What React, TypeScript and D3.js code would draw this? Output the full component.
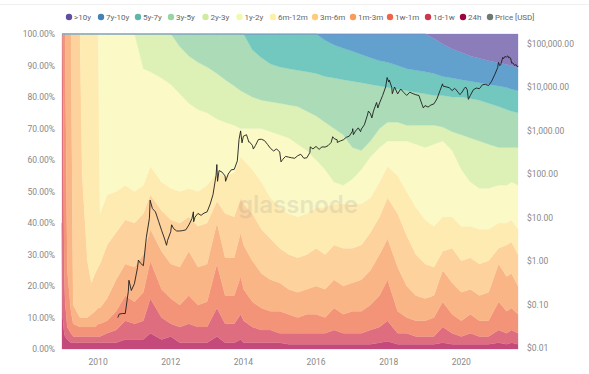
import React, { useEffect, useRef } from 'react';
import * as d3 from 'd3';

// sample dates of the age bands
const dates = [
  '2009-01-03', '2009-01-10', '2009-01-25', '2009-02-03', '2009-02-25', '2009-04-03', '2009-04-25', '2009-07-03', '2009-07-25', '2009-09-15',
  '2009-10-25', '2009-12-01', '2010-01-03', '2010-01-20', '2010-04-01', '2010-07-01', '2010-10-01', '2011-01-03', '2011-04-01', '2011-06-10',
  '2011-10-01', '2012-01-03', '2012-04-01', '2012-07-01', '2012-10-01', '2013-01-01', '2013-04-10', '2013-07-01', '2013-10-01', '2013-12-05',
  '2014-01-03', '2014-04-01', '2014-07-01', '2014-10-01', '2015-01-01', '2015-04-01', '2015-07-01', '2015-10-01', '2016-01-03', '2016-04-01',
  '2016-07-01', '2016-10-01', '2017-01-01', '2017-04-01', '2017-07-01', '2017-10-01', '2017-12-20', '2018-04-01', '2018-07-01', '2018-10-01',
  '2019-01-03', '2019-04-01', '2019-06-28', '2019-10-01', '2020-01-01', '2020-04-01', '2020-07-01', '2020-10-01', '2021-01-10', '2021-04-01',
  '2021-05-20', '2021-07-24'
];

// cumulative upper edge of each band, % of supply
const edge24h = [
  40, 10, 5, 4, 3, 2, 2, 2, 2, 2,
  2, 2, 2, 2, 2, 2, 3, 3, 3, 5,
  3, 4, 2, 2, 2, 2, 4, 2, 2, 3,
  2, 2, 2, 2, 2, 1.5, 1.5, 1.5, 1.5, 1.5,
  1.5, 1.5, 1.5, 1.5, 1.5, 2, 2.5, 1.5, 1.5, 1.5,
  1.5, 1.5, 2, 1.5, 1.5, 1.5, 1.5, 1.5, 2, 1.5,
  2, 1.5
];
const edge1d1w = [
  100, 100, 25, 15, 7, 5, 4, 4, 4, 4,
  4, 4, 4, 4, 5, 6, 9, 8, 9, 16,
  10, 8, 7, 8, 7, 7, 13, 8, 8, 11,
  9, 7, 6, 6, 5, 5, 5, 5, 5, 5,
  6, 5, 5, 5, 6, 7, 9, 5, 5, 4,
  4, 4, 7, 5, 4, 5, 4, 4, 6, 5,
  6, 5
];
const edge1w1m = [
  100, 100, 100, 100, 25, 12, 8, 7, 7, 7,
  7, 7, 8, 8, 9, 12, 17, 15, 18, 28,
  19, 16, 14, 17, 14, 15, 27, 17, 17, 23,
  19, 15, 13, 12, 12, 11, 10, 11, 11, 10,
  13, 11, 12, 12, 14, 17, 22, 12, 10, 9,
  9, 10, 15, 11, 9, 11, 9, 9, 15, 12,
  13, 11
];
const edge1m3m = [
  100, 100, 100, 100, 100, 100, 14, 10, 10, 10,
  11, 12, 13, 13, 16, 22, 27, 26, 30, 38,
  31, 27, 26, 31, 26, 27, 40, 29, 29, 37,
  33, 28, 24, 22, 21, 19, 18, 19, 20, 19,
  22, 20, 21, 22, 25, 30, 35, 26, 20, 17,
  16, 17, 25, 21, 18, 19, 17, 18, 27, 23,
  24, 20
];
const edge3m6m = [
  100, 100, 100, 100, 100, 100, 100, 100, 55, 28,
  21, 24, 26, 27, 33, 37, 41, 40, 43, 49,
  44, 41, 40, 42, 39, 40, 47, 43, 42, 48,
  46, 43, 38, 35, 32, 30, 29, 30, 32, 30,
  33, 32, 32, 33, 37, 42, 48, 43, 36, 30,
  27, 26, 31, 32, 28, 29, 27, 28, 32, 33,
  34, 30
];
const edge6m12m = [
  100, 100, 100, 100, 100, 100, 100, 100, 100, 100,
  100, 100, 100, 43, 49, 50, 52, 50, 52, 58,
  53, 51, 50, 51, 50, 52, 56, 55, 56, 61,
  60, 57, 53, 48, 45, 43, 42, 43, 45, 45,
  46, 46, 46, 46, 48, 53, 58, 55, 50, 45,
  41, 39, 42, 42, 39, 39, 38, 38, 40, 40,
  41, 38
];
const edge1y2y = [
  100, 100, 100, 100, 100, 100, 100, 100, 100, 100,
  100, 100, 100, 100, 100, 100, 100, 100, 89, 88,
  86, 84, 81, 78, 76, 75, 73, 72, 71, 70,
  70, 70, 70, 69, 68, 67, 65, 63, 60, 57,
  53, 52, 54, 57, 61, 64, 66, 66, 66, 65,
  64, 65, 66, 63, 57, 53, 51, 51, 52, 52,
  53, 52
];
const edge2y3y = [
  100, 100, 100, 100, 100, 100, 100, 100, 100, 100,
  100, 100, 100, 100, 100, 100, 100, 100, 100, 100,
  100, 100, 96, 93, 91, 89.5, 87.5, 85.5, 83.5, 82,
  81.5, 80, 79, 78.5, 78, 77.5, 77, 75.5, 74, 72,
  70, 68, 64, 63, 66, 70, 72, 72, 71, 71,
  71, 71, 70.5, 69, 68, 67, 66, 65, 64, 64,
  64, 64
];
const edge3y5y = [
  100, 100, 100, 100, 100, 100, 100, 100, 100, 100,
  100, 100, 100, 100, 100, 100, 100, 100, 100, 100,
  100, 100, 100, 100, 100, 100, 100, 100, 100, 100,
  100, 95, 92.5, 90.5, 89.5, 89, 88.5, 88, 87.5, 86.5,
  86, 85.5, 85, 84.5, 84, 83.5, 83, 82.5, 82, 81.5,
  81, 80.5, 80.5, 80, 80, 79.5, 79, 78, 77, 76,
  75.5, 75
];
const edge5y7y = [
  100, 100, 100, 100, 100, 100, 100, 100, 100, 100,
  100, 100, 100, 100, 100, 100, 100, 100, 100, 100,
  100, 100, 100, 100, 100, 100, 100, 100, 100, 100,
  100, 100, 100, 100, 100, 100, 100, 100, 100, 98,
  96.5, 95.5, 94.5, 93.5, 92.5, 91.5, 91, 90, 89, 88.5,
  88, 87.5, 86.5, 86, 85.5, 85, 84.5, 84, 83.5, 83,
  82.5, 82
];
const edge7y10y = [
  100, 100, 100, 100, 100, 100, 100, 100, 100, 100,
  100, 100, 100, 100, 100, 100, 100, 100, 100, 100,
  100, 100, 100, 100, 100, 100, 100, 100, 100, 100,
  100, 100, 100, 100, 100, 100, 100, 100, 100, 100,
  100, 100, 100, 100, 100, 100, 100, 100, 100, 100,
  100, 98.6, 96.8, 95.2, 94.2, 93, 92.3, 91.5, 90.9, 90.3,
  90, 89.4
];

// bottom to top
const bandNames = ['24h', '1d-1w', '1w-1m', '1m-3m', '3m-6m', '6m-12m', '1y-2y', '2y-3y', '3y-5y', '5y-7y', '7y-10y', '>10y'];
const bandFills = ['#c44a7c', '#de6e7f', '#f39479', '#f9b586', '#fdd29c', '#feebb1', '#fbf9c6', '#ddf0b6', '#abdcb7', '#72c8be', '#62a0ce', '#8b7cba'];

// BTC price [USD]
const priceSeries: [string, number][] = [
  ['2010-07-18', 0.05], ['2010-08-01', 0.06], ['2010-09-01', 0.062], ['2010-10-01', 0.062], ['2010-11-01', 0.2],
  ['2010-11-07', 0.36], ['2010-12-01', 0.21], ['2011-01-01', 0.3], ['2011-02-01', 0.7], ['2011-02-10', 1.05],
  ['2011-03-01', 0.9], ['2011-04-01', 0.78], ['2011-05-01', 3.5], ['2011-06-01', 9.6], ['2011-06-08', 25],
  ['2011-07-01', 16.1], ['2011-08-01', 13.4], ['2011-09-01', 8.2], ['2011-10-01', 5.1], ['2011-11-01', 3.2],
  ['2011-11-20', 2.3], ['2011-12-01', 3.0], ['2012-01-01', 4.7], ['2012-01-10', 6.8], ['2012-02-01', 5.5],
  ['2012-03-01', 4.9], ['2012-04-01', 4.9], ['2012-05-01', 5.0], ['2012-06-01', 5.2], ['2012-07-01', 6.7],
  ['2012-08-01', 9.3], ['2012-08-16', 13.5], ['2012-08-19', 8.0], ['2012-09-01', 10.2], ['2012-10-01', 12.4],
  ['2012-11-01', 11.2], ['2012-12-01', 12.6], ['2013-01-01', 13.5], ['2013-02-01', 20.4], ['2013-03-01', 33.4],
  ['2013-04-01', 93], ['2013-04-09', 165], ['2013-04-16', 68], ['2013-05-01', 120], ['2013-06-01', 110],
  ['2013-07-01', 90], ['2013-07-06', 68], ['2013-08-01', 100], ['2013-09-01', 125], ['2013-10-01', 128],
  ['2013-11-01', 200], ['2013-11-18', 620], ['2013-12-04', 980], ['2013-12-18', 520], ['2014-01-01', 740],
  ['2014-02-01', 800], ['2014-02-25', 540], ['2014-03-01', 550], ['2014-04-01', 457], ['2014-04-11', 375],
  ['2014-05-01', 448], ['2014-06-01', 620], ['2014-07-01', 630], ['2014-08-01', 586], ['2014-09-01', 478],
  ['2014-10-01', 387], ['2014-11-01', 338], ['2014-12-01', 378], ['2015-01-01', 320], ['2015-01-14', 190],
  ['2015-02-01', 217], ['2015-03-01', 254], ['2015-04-01', 244], ['2015-05-01', 236], ['2015-06-01', 230],
  ['2015-07-01', 263], ['2015-08-01', 284], ['2015-09-01', 230], ['2015-10-01', 236], ['2015-11-01', 314],
  ['2015-11-04', 420], ['2015-12-01', 377], ['2016-01-01', 430], ['2016-02-01', 369], ['2016-03-01', 420],
  ['2016-04-01', 416], ['2016-05-01', 448], ['2016-06-01', 531], ['2016-06-17', 720], ['2016-07-01', 650],
  ['2016-08-01', 610], ['2016-08-02', 530], ['2016-09-01', 575], ['2016-10-01', 609], ['2016-11-01', 698],
  ['2016-12-01', 742], ['2017-01-01', 960], ['2017-01-04', 1100], ['2017-01-11', 800], ['2017-02-01', 970],
  ['2017-03-01', 1150], ['2017-03-24', 940], ['2017-04-01', 1080], ['2017-05-01', 1350], ['2017-06-01', 2250],
  ['2017-06-11', 2800], ['2017-07-01', 2450], ['2017-07-16', 1950], ['2017-08-01', 2800], ['2017-09-01', 4400],
  ['2017-09-14', 3300], ['2017-10-01', 4300], ['2017-11-01', 6400], ['2017-12-01', 10000], ['2017-12-16', 16500],
  ['2018-01-01', 13000], ['2018-01-06', 14500], ['2018-02-01', 9800], ['2018-02-06', 7000], ['2018-03-01', 10000],
  ['2018-04-01', 6940], ['2018-05-01', 9000], ['2018-06-01', 7500], ['2018-07-01', 6400], ['2018-08-01', 7600],
  ['2018-09-01', 7030], ['2018-10-01', 6630], ['2018-11-01', 6370], ['2018-12-01', 4020], ['2018-12-15', 3300],
  ['2019-01-01', 3740], ['2019-02-01', 3460], ['2019-03-01', 3850], ['2019-04-01', 4100], ['2019-05-01', 5350],
  ['2019-06-01', 8300], ['2019-06-26', 11800], ['2019-07-01', 10500], ['2019-08-01', 10080], ['2019-09-01', 9630],
  ['2019-10-01', 8290], ['2019-10-26', 9300], ['2019-11-01', 9100], ['2019-12-01', 7500], ['2019-12-17', 6700],
  ['2020-01-01', 7190], ['2020-02-01', 9300], ['2020-02-13', 10000], ['2020-03-01', 8600], ['2020-03-12', 5200],
  ['2020-04-01', 6440], ['2020-05-01', 8660], ['2020-06-01', 9460], ['2020-07-01', 9140], ['2020-08-01', 11300],
  ['2020-09-01', 11500], ['2020-10-01', 10780], ['2020-11-01', 13600], ['2020-12-01', 19000], ['2021-01-01', 28000],
  ['2021-01-08', 37000], ['2021-01-22', 31000], ['2021-02-01', 33000], ['2021-02-21', 48000], ['2021-03-01', 45000],
  ['2021-03-13', 50000], ['2021-04-01', 49000], ['2021-04-13', 52000], ['2021-04-25', 46000], ['2021-05-01', 48000],
  ['2021-05-10', 46000], ['2021-05-23', 35000], ['2021-06-01', 36000], ['2021-06-22', 31000], ['2021-07-01', 33000],
  ['2021-07-20', 29000], ['2021-07-24', 30500]
];

const pctTicks = [0, 10, 20, 30, 40, 50, 60, 70, 80, 90, 100];
const priceTicks = [0.01, 0.1, 1, 10, 100, 1000, 10000, 100000];
const yearTicks = ['2010', '2012', '2014', '2016', '2018', '2020'];

// legend, left to right
const legendLabels = ['>10y', '7y-10y', '5y-7y', '3y-5y', '2y-3y', '1y-2y', '6m-12m', '3m-6m', '1m-3m', '1w-1m', '1d-1w', '24h', 'Price [USD]'];
const legendX = [69, 101, 138, 171, 205.5, 239.5, 273, 315, 353, 390, 428, 463, 490];

const font = 'Roboto, "Open Sans", sans-serif';

const App = () => {
  const ref = useRef<SVGSVGElement>(null);

  useEffect(() => {
    const svg = d3.select(ref.current);
    svg.selectAll('*').remove();

    const parse = d3.timeParse('%Y-%m-%d');
    const t = dates.map(d => parse(d) as Date);

    const x = d3.scaleTime().domain([t[0], t[t.length - 1]]).range([62, 518]);
    const y = d3.scaleLinear().domain([0, 100]).range([349, 34]);
    const yPrice = d3.scaleLog().domain([0.01, 100000]).range([348, 43.5]);

    const edges = [edge24h, edge1d1w, edge1w1m, edge1m3m, edge3m6m, edge6m12m, edge1y2y, edge2y3y, edge3y5y, edge5y7y, edge7y10y];
    const spectral = d3.quantize(d3.interpolateSpectral, 12);

    svg.append('line')
      .attr('x1', 0).attr('x2', 589).attr('y1', 4.5).attr('y2', 4.5)
      .attr('stroke', '#f0f0f0');

    const g = svg.append('g');
    bandNames.forEach((name, i) => {
      const lower = i === 0 ? null : edges[i - 1];
      const upper = i < edges.length ? edges[i] : null;
      const area = d3.area<Date>()
        .x(d => x(d))
        .y0((d, j) => y(lower ? lower[j] : 0))
        .y1((d, j) => y(upper ? upper[j] : 100));
      g.append('path')
        .attr('d', area(t))
        .attr('fill', bandFills[i])
        .attr('stroke', bandFills[i])
        .attr('stroke-width', 0.3);
    });

    // watermark
    svg.append('text')
      .attr('x', 298).attr('y', 213)
      .attr('text-anchor', 'middle')
      .attr('font-family', 'Inter, sans-serif')
      .attr('font-size', 24)
      .attr('font-weight', 600)
      .attr('fill', '#9a9a9a')
      .attr('opacity', 0.2)
      .text('glassnode');

    const priceLine = d3.line<[string, number]>()
      .x(d => x(parse(d[0]) as Date))
      .y(d => yPrice(d[1]));
    svg.append('path')
      .attr('d', priceLine(priceSeries))
      .attr('fill', 'none')
      .attr('stroke', '#1e1e1e')
      .attr('stroke-width', 0.9);

    svg.append('g').selectAll('text')
      .data(pctTicks)
      .join('text')
      .attr('x', 55)
      .attr('y', d => y(d) + 3)
      .attr('text-anchor', 'end')
      .attr('font-family', font)
      .attr('font-size', 8.5)
      .attr('fill', '#888')
      .text(d => d3.format('.2f')(d) + '%');

    svg.append('g').selectAll('text')
      .data(priceTicks)
      .join('text')
      .attr('x', 527)
      .attr('y', d => yPrice(d) + 3)
      .attr('font-family', font)
      .attr('font-size', 8.5)
      .attr('fill', '#888')
      .text(d => d3.format('$,.2f')(d));

    svg.append('g').selectAll('text')
      .data(yearTicks)
      .join('text')
      .attr('x', d => x(parse(d + '-01-01') as Date))
      .attr('y', 365)
      .attr('text-anchor', 'middle')
      .attr('font-family', font)
      .attr('font-size', 8.5)
      .attr('fill', '#888')
      .text(d => d);

    const legendColors = [...spectral].reverse().concat(['#6d7a72']);
    const legend = svg.append('g').selectAll('g')
      .data(legendLabels)
      .join('g')
      .attr('transform', (d, i) => `translate(${legendX[i]},17)`);
    legend.append('circle')
      .attr('r', 3.2)
      .attr('fill', (d, i) => legendColors[i]);
    legend.append('text')
      .attr('x', 5)
      .attr('y', 3)
      .attr('font-family', font)
      .attr('font-size', 8)
      .attr('fill', '#666')
      .text(d => d);
  }, []);

  return (
    <svg
      ref={ref}
      width={589}
      height={374}
      style={{ position: 'absolute', left: 0, top: 0, background: '#fff' }}
    />
  );
};

export default App;
